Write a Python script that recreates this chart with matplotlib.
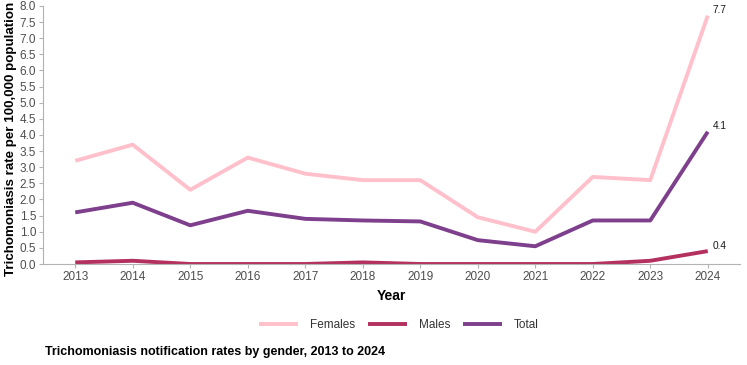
import matplotlib

matplotlib.use("Agg")
import matplotlib.pyplot as plt

plt.rcParams["font.family"] = ["Liberation Sans", "DejaVu Sans"]

years = [2013, 2014, 2015, 2016, 2017, 2018, 2019, 2020, 2021, 2022, 2023, 2024]
females = [3.2, 3.7, 2.3, 3.3, 2.8, 2.6, 2.6, 1.45, 1.0, 2.7, 2.6, 7.7]
males = [0.05, 0.1, 0.0, 0.0, 0.0, 0.05, 0.0, 0.0, 0.0, 0.0, 0.1, 0.4]
total = [1.6, 1.9, 1.2, 1.65, 1.4, 1.35, 1.32, 0.74, 0.55, 1.35, 1.35, 4.1]

C_FEM, C_MALE, C_TOT = "#ffc0cb", "#b3305f", "#7e3f8c"
C_TICK, C_AXIS = "#4d4d4d", "#b3b3b3"

fig = plt.figure(figsize=(7.47, 3.65), dpi=100)
ax = fig.add_axes([0.0576, 0.2767, 0.9330, 0.7069])

series = [("Females", females, C_FEM), ("Males", males, C_MALE), ("Total", total, C_TOT)]
for name, vals, col in series:
    ax.plot(years, vals, color=col, linewidth=2.8, label=name, solid_capstyle="butt")

# end-of-line labels
for vals in (females, total, males):
    ax.annotate(f"{vals[-1]:.1f}", (years[-1], vals[-1]), xytext=(3.6, 4),
                textcoords="offset points", fontsize=7.3, color="#1a1a1a", va="center", ha="left")

ax.set_xlim(2012.44, 2024.56)
ax.set_ylim(0, 8)
ax.set_xticks(years, [str(y) for y in years])
ax.set_yticks([i * 0.5 for i in range(17)], [f"{i * 0.5:.1f}" for i in range(17)])
ax.tick_params(labelsize=8.5, colors=C_TICK, length=3, color=C_AXIS, pad=2)
for s in ("top", "right"):
    ax.spines[s].set_visible(False)
for s in ("left", "bottom"):
    ax.spines[s].set_color(C_AXIS)
ax.set_xlabel("Year", fontsize=10, fontweight="bold", labelpad=4)

fig.text(11 / 747, 1 - 139 / 365, "Trichomoniasis rate per 100,000 population", rotation=90,
         fontsize=9.6, fontweight="bold", ha="center", va="center")

fig.legend(loc="center", bbox_to_anchor=(399 / 747, 1 - 325 / 365), ncol=3, frameon=False,
           fontsize=8.5, handlelength=3.3, handletextpad=1.0, columnspacing=1.1,
           labelcolor="#333333")
fig.text(45 / 747, 1 - 352 / 365, "Trichomoniasis notification rates by gender, 2013 to 2024",
         fontsize=9, fontweight="bold", ha="left", va="center")

fig.savefig("out.png", dpi=100, facecolor="white")
